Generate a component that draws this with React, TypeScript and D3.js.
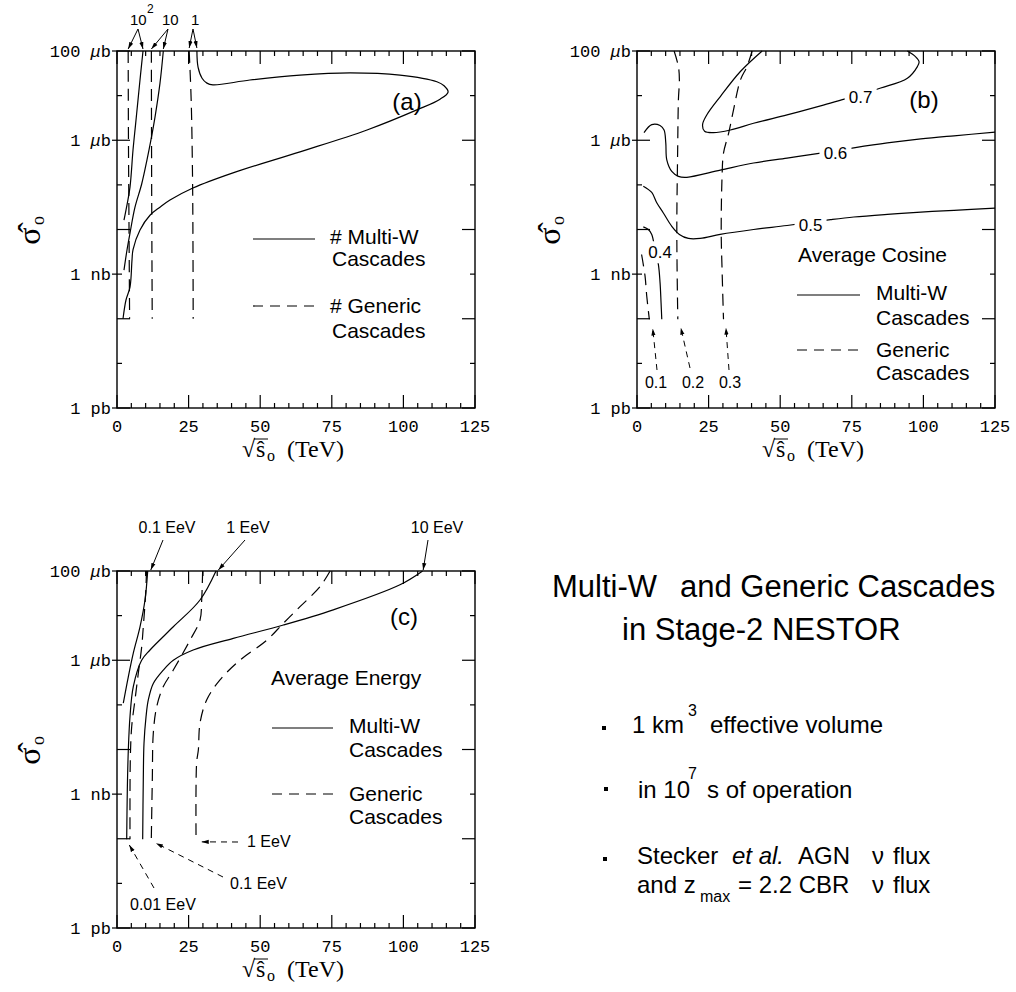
import React from 'react';
import * as d3 from 'd3';

// ---------- geometry of one panel ----------
const PW = 358;
const PH = 357;

// ---------- axes ----------
const xTickValues = [0, 25, 50, 75, 100, 125];
const xTickLabels = ['0', '25', '50', '75', '100', '125'];
const yExponents = [0, 1, 2, 3, 4, 5, 6, 7, 8]; // log10(sigma / pb)
const yTickNums = ['100', '1', '1', '1'];
const yTickUnits = ['b', 'b', 'nb', 'pb'];
const yTickMu = [true, true, false, false];
const yTickExps = [8, 6, 3, 0];

// ---------- data: [sqrt(s) in TeV, log10(sigma/pb)] ----------
// Panel (a): number of cascades
const aMulti100 = [[9.08, 8.0], [8.2, 7.46], [7.33, 6.9], [6.46, 6.34], [5.59, 5.78], [4.54, 4.95], [3.49, 4.55], [2.44, 4.21]];
const aMulti10 = [[16.17, 8.0], [15.01, 7.28], [13.27, 6.52], [11.77, 5.98], [10.47, 5.56], [8.62, 5.02], [6.28, 4.5], [4.54, 3.92], [3.49, 3.54], [2.44, 3.09]];
const aMulti1 = [[2.1, 2.0], [3.14, 2.42], [4.54, 2.71], [5.24, 3.32], [5.6, 3.55], [8.03, 3.99], [11.52, 4.32], [15.0, 4.5], [18.5, 4.66], [26.5, 4.93], [40.5, 5.27], [63.9, 5.74], [87.3, 6.23], [104.7, 6.68], [112.8, 6.92], [115.6, 7.08], [114.2, 7.22], [111.7, 7.31], [98.8, 7.46], [81.4, 7.51], [63.9, 7.46], [46.4, 7.35], [33.5, 7.24], [31.4, 7.28], [29.7, 7.39], [28.3, 7.64], [27.9, 8.0]];
const aGeneric100 = [[3.9, 8.0], [4.0, 6.0], [4.2, 4.0], [4.4, 2.0]];
const aGeneric10 = [[12.0, 8.0], [12.1, 5.0], [12.3, 2.0]];
const aGeneric1 = [[25.2, 8.0], [25.9, 6.9], [26.4, 5.0], [26.6, 2.0]];

// Panel (b): average cosine
const bMulti07 = [[43.7, 8.0], [36.1, 7.54], [29.1, 6.98], [24.4, 6.57], [22.9, 6.35], [23.6, 6.2], [26.7, 6.17], [32.6, 6.23], [40.7, 6.38], [52.4, 6.57], [64.1, 6.77], [71.7, 6.91], [78.3, 7.03], [85.1, 7.17], [94.4, 7.39], [97.9, 7.65], [98.5, 7.76], [97.3, 7.87], [94.4, 8.0]];
const bMulti06 = [[2.45, 6.17], [5.15, 6.35], [8.05, 6.33], [9.45, 6.23], [10.05, 5.94], [10.4, 5.56], [12.15, 5.3], [14.46, 5.19], [17.4, 5.17], [29.1, 5.33], [40.7, 5.49], [52.4, 5.6], [64.1, 5.71], [75.7, 5.83], [87.4, 5.94], [99.1, 6.03], [110.7, 6.1], [125, 6.18]];
const bMulti05 = [[2.2, 4.97], [5.15, 4.83], [6.9, 4.6], [9.2, 4.37], [12.15, 4.07], [14.8, 3.89], [17.96, 3.8], [22.06, 3.8], [29.06, 3.89], [40.7, 4.0], [52.4, 4.09], [67.6, 4.22], [75.7, 4.28], [87.4, 4.34], [99.1, 4.39], [110.7, 4.43], [125, 4.48]];
const bMulti04 = [[2.2, 4.06], [3.96, 4.0], [5.15, 3.89], [6.3, 3.55], [7.46, 3.22], [8.05, 2.81], [8.4, 2.36], [8.65, 1.99]];
const bGeneric01 = [[1.6, 3.44], [2.8, 2.96], [3.4, 2.51], [4.3, 1.99]];
const bGeneric02 = [[12.96, 8.0], [14.46, 7.65], [14.8, 7.35], [14.46, 6.91], [14.2, 5.79], [13.9, 3.93], [14.25, 1.99]];
const bGeneric03 = [[40.2, 8.0], [38.4, 7.65], [36.1, 7.35], [33.7, 6.68], [32.0, 6.16], [30.2, 5.71], [29.7, 5.19], [29.4, 3.93], [29.7, 3.11], [30.2, 1.99]];
const bContourLabels = ['0.7', '0.6', '0.5', '0.4'];
const bContourLabelAt = [[78.1, 6.97], [69.3, 5.72], [60.6, 4.11], [8.05, 3.49]];

// Panel (c): average energy
const cMulti01 = [[10.72, 8.0], [9.78, 7.35], [8.03, 6.75], [5.69, 6.16], [3.95, 5.63], [2.2, 5.04]];
const cMulti1 = [[34.57, 8.0], [28.98, 7.35], [19.66, 6.75], [11.52, 6.23], [8.6, 6.0], [5.69, 5.41], [4.54, 4.74], [3.95, 3.99], [3.6, 3.09], [3.39, 1.99]];
const cMulti10 = [[106.7, 8.0], [98.8, 7.69], [75.5, 7.13], [58.1, 6.79], [40.6, 6.49], [26.6, 6.23], [19.66, 6.0], [16.17, 5.78], [12.67, 5.48], [10.93, 5.11], [10.13, 4.73], [9.43, 4.14], [9.18, 3.32], [8.97, 1.99]];
const cGeneric01 = [[10.3, 8.0], [10.02, 7.51], [9.18, 6.75], [8.62, 6.3], [7.44, 5.71], [6.28, 5.11], [5.13, 4.51], [4.64, 3.76], [4.54, 1.99]];
const cGeneric1 = [[29.9, 8.0], [29.57, 7.35], [28.98, 6.9], [25.5, 6.45], [19.66, 5.78], [16.17, 5.41], [13.86, 4.96], [12.67, 4.36], [12.33, 3.32], [11.98, 1.99]];
const cGeneric10 = [[74.4, 8.0], [70.9, 7.65], [63.9, 7.2], [58.1, 6.83], [52.3, 6.45], [42.9, 6.0], [35.96, 5.56], [31.3, 5.11], [28.98, 4.59], [28.4, 3.99], [27.8, 3.7], [27.6, 1.99]];

// ---------- scales ----------
const xS = d3.scaleLinear().domain([0, 125]).range([0, PW]);
const yS = d3.scaleLog().domain([1, 1e8]).range([PH, 0]);
const X = (v: number) => xS(v);
const Y = (e: number) => yS(Math.pow(10, e));
const curve = d3
  .line<number[]>()
  .x((d) => X(d[0]))
  .y((d) => Y(d[1]))
  .curve(d3.curveCatmullRom.alpha(0.5));

const SANS = 'Liberation Sans, Arial, Helvetica, sans-serif';
const MONO = 'Liberation Mono, Courier New, monospace';
const SERIF = 'Liberation Serif, Times New Roman, serif';
const DASH = '12,7';

function Axes() {
  const minor = d3.range(0, 126, 5);
  return (
    <g>
      <g stroke="#000" strokeWidth={1.2} fill="none">
        <rect x={0} y={0} width={PW} height={PH} strokeWidth={1.4} />
        {minor.map((v) => {
          const L = v % 25 === 0 ? 13 : 5;
          const p = X(v);
          return (
            <g key={'x' + v}>
              <line x1={p} x2={p} y1={PH} y2={PH - L} />
              <line x1={p} x2={p} y1={0} y2={L} />
            </g>
          );
        })}
        {yExponents.map((e) => {
          const L = e % 2 === 0 ? 13 : 5;
          const p = Y(e);
          const out = yTickExps.indexOf(e) >= 0 ? -5 : 0;
          return (
            <g key={'y' + e}>
              <line x1={out} x2={L} y1={p} y2={p} />
              <line x1={PW} x2={PW - L} y1={p} y2={p} />
            </g>
          );
        })}
      </g>
      <g fontFamily={MONO} fontSize={17} fill="#000">
        {xTickValues.map((v, i) => (
          <text key={'xl' + v} x={X(v)} y={PH + 24} textAnchor="middle">
            {xTickLabels[i]}
          </text>
        ))}
        {yTickExps.map((e, i) => (
          <text key={'yl' + e} x={-6} y={Y(e) + 6} textAnchor="end">
            {yTickNums[i] + ' '}
            {yTickMu[i] ? <tspan fontStyle="italic">μ</tspan> : null}
            {yTickUnits[i]}
          </text>
        ))}
      </g>
      {/* x axis title */}
      <g fontFamily={SERIF} fontSize={24} fill="#000">
        <text y={406}>
          <tspan x={125}>√</tspan>
          <tspan x={139}>ŝ</tspan>
          <tspan x={150} dy={4} fontSize={16}>o</tspan>
          <tspan x={170} dy={-4}>(TeV)</tspan>
        </text>
        <line x1={137} x2={151} y1={388} y2={388} stroke="#000" strokeWidth={1} />
      </g>
      {/* y axis title */}
      <g transform={`translate(-89,181) rotate(-90)`} fontFamily={SERIF} fill="#000">
        <text x={-4} y={12} fontSize={32} textAnchor="middle">
          σ̂
        </text>
        <text x={7} y={16} fontSize={18}>
          o
        </text>
      </g>
    </g>
  );
}

function Path({ data, dashed }: { data: number[][]; dashed?: boolean }) {
  return (
    <path
      d={curve(data) || ''}
      fill="none"
      stroke="#000"
      strokeWidth={1.2}
      strokeDasharray={dashed ? DASH : undefined}
    />
  );
}

function Arrow({ x1, y1, x2, y2, dashed }: { x1: number; y1: number; x2: number; y2: number; dashed?: boolean }) {
  return (
    <line
      x1={x1}
      y1={y1}
      x2={x2}
      y2={y2}
      stroke="#000"
      strokeWidth={1}
      strokeDasharray={dashed ? '6,5' : undefined}
      markerEnd="url(#ah)"
    />
  );
}

function Legend({ x0, x1, xt, yTitle, title, y1, y1b, y2, y2b, hash }: any) {
  return (
    <g fontFamily={SANS} fontSize={21} fill="#000">
      {title ? (
        <text x={xt - 78} y={yTitle}>
          {title}
        </text>
      ) : null}
      <line x1={x0} x2={x1} y1={y1 - 5} y2={y1 - 5} stroke="#000" strokeWidth={1.2} />
      <text x={xt} y={y1}>{hash ? '# Multi-W' : 'Multi-W'}</text>
      <text x={xt + (hash ? 2 : 0)} y={y1b}>Cascades</text>
      <line x1={x0} x2={x1} y1={y2 - 7} y2={y2 - 7} stroke="#000" strokeWidth={1.2} strokeDasharray="10,7" />
      <text x={xt} y={y2}>{hash ? '# Generic' : 'Generic'}</text>
      <text x={xt + (hash ? 2 : 0)} y={y2b}>Cascades</text>
    </g>
  );
}

function PanelA() {
  return (
    <g transform="translate(117,51)">
      <Axes />
      <Path data={aMulti100} />
      <Path data={aMulti10} />
      <Path data={aMulti1} />
      <Path data={aGeneric100} dashed />
      <Path data={aGeneric10} dashed />
      <Path data={aGeneric1} dashed />
      <g fontFamily={SANS} fontSize={15} fill="#000">
        <text x={13} y={-26}>10</text>
        <text x={30} y={-38} fontSize={12}>2</text>
        <text x={45} y={-26}>10</text>
        <text x={74} y={-26}>1</text>
      </g>
      <Arrow x1={21} y1={-22} x2={X(aGeneric100[0][0])} y2={Y(8) - 2} />
      <Arrow x1={21} y1={-22} x2={X(aMulti100[0][0])} y2={Y(8) - 2} />
      <Arrow x1={51} y1={-22} x2={X(aGeneric10[0][0])} y2={Y(8) - 2} />
      <Arrow x1={51} y1={-22} x2={X(aMulti10[0][0])} y2={Y(8) - 2} />
      <Arrow x1={76} y1={-22} x2={X(aGeneric1[0][0])} y2={Y(8) - 3} />
      <Arrow x1={76} y1={-22} x2={X(aMulti1[aMulti1.length - 1][0])} y2={Y(8) - 3} />
      <text x={290} y={59} fontFamily={SANS} fontSize={24} textAnchor="middle">(a)</text>
      <Legend x0={136} x1={198} xt={213} y1={193} y1b={215} y2={262} y2b={287} hash />
    </g>
  );
}

function PanelB() {
  const lines = [bMulti07, bMulti06, bMulti05, bMulti04];
  return (
    <g transform="translate(637,51)">
      <Axes />
      {lines.map((d, i) => (
        <Path key={'bm' + i} data={d} />
      ))}
      <Path data={bGeneric01} dashed />
      <Path data={bGeneric02} dashed />
      <Path data={bGeneric03} dashed />
      <g fontFamily={SANS} fontSize={17} fill="#000">
        {bContourLabels.map((t, i) => {
          const cx = X(bContourLabelAt[i][0]);
          const cy = Y(bContourLabelAt[i][1]);
          return (
            <g key={'bl' + t}>
              <rect x={cx - 16} y={cy - 11} width={32} height={22} fill="#fff" />
              <text x={cx} y={cy + 6} textAnchor="middle">{t}</text>
            </g>
          );
        })}
      </g>
      <g fontFamily={SANS} fontSize={16} fill="#000">
        <text x={19} y={337} textAnchor="middle">0.1</text>
        <text x={56} y={337} textAnchor="middle">0.2</text>
        <text x={93} y={337} textAnchor="middle">0.3</text>
      </g>
      <Arrow x1={20} y1={319} x2={X(5.5)} y2={Y(1.78)} dashed />
      <Arrow x1={53} y1={317} x2={X(15.3)} y2={Y(1.8)} dashed />
      <Arrow x1={92} y1={319} x2={X(31.06)} y2={Y(1.8)} dashed />
      <text x={287} y={57} fontFamily={SANS} fontSize={24} textAnchor="middle">(b)</text>
      <Legend x0={160} x1={223} xt={239} title="Average Cosine" yTitle={211} y1={249} y1b={274} y2={306} y2b={329} />
    </g>
  );
}

function PanelC() {
  return (
    <g transform="translate(117,571)">
      <Axes />
      <Path data={cMulti01} />
      <Path data={cMulti1} />
      <Path data={cMulti10} />
      <Path data={cGeneric01} dashed />
      <Path data={cGeneric1} dashed />
      <Path data={cGeneric10} dashed />
      <g fontFamily={SANS} fontSize={16} fill="#000">
        <text x={50} y={-38} textAnchor="middle">0.1 EeV</text>
        <text x={131} y={-38} textAnchor="middle">1 EeV</text>
        <text x={320} y={-38} textAnchor="middle">10 EeV</text>
        <text x={130} y={276}>1 EeV</text>
        <text x={113} y={318}>0.1 EeV</text>
        <text x={13} y={339}>0.01 EeV</text>
      </g>
      <Arrow x1={46} y1={-31} x2={X(11.8)} y2={Y(8) - 1} />
      <Arrow x1={128} y1={-31} x2={X(35.4)} y2={Y(8) - 1} />
      <Arrow x1={311} y1={-31} x2={X(106.9)} y2={Y(8) - 1} />
      <Arrow x1={121} y1={271} x2={X(29.6)} y2={Y(1.93)} dashed />
      <Arrow x1={106} y1={306} x2={X(13.6)} y2={Y(1.9)} dashed />
      <Arrow x1={37} y1={317} x2={X(4.3)} y2={Y(1.86)} dashed />
      <text x={287} y={54} fontFamily={SANS} fontSize={24} textAnchor="middle">(c)</text>
      <Legend x0={155} x1={216} xt={232} title="Average Energy" yTitle={114} y1={162} y1b={186} y2={230} y2b={253} />
    </g>
  );
}

function Notes() {
  return (
    <g fontFamily={SANS} fill="#000">
      <text y={597} fontSize={31}>
        <tspan x={552}>Multi-W</tspan>
        <tspan x={680}>and Generic Cascades</tspan>
      </text>
      <text x={622} y={640} fontSize={31}>in Stage-2 NESTOR</text>

      <rect x={602} y={726} width={4} height={4} />
      <text y={733} fontSize={24}>
        <tspan x={632}>1 km</tspan>
        <tspan x={688} y={716} fontSize={16}>3</tspan>
        <tspan x={710} y={733}>effective volume</tspan>
      </text>

      <rect x={604} y={787} width={4} height={4} />
      <text y={798} fontSize={24}>
        <tspan x={638}>in 10</tspan>
        <tspan x={688} y={779} fontSize={16}>7</tspan>
        <tspan x={707} y={798}>s of operation</tspan>
      </text>

      <rect x={603} y={857} width={4} height={4} />
      <text y={864} fontSize={24}>
        <tspan x={637}>Stecker</tspan>
        <tspan x={732} fontStyle="italic">et al.</tspan>
        <tspan x={798}>AGN</tspan>
        <tspan x={872}>ν</tspan>
        <tspan x={893}>flux</tspan>
      </text>
      <text y={893} fontSize={24}>
        <tspan x={637}>and z</tspan>
        <tspan x={700} y={902} fontSize={16}>max</tspan>
        <tspan x={738} y={893}>= 2.2 CBR</tspan>
        <tspan x={872}>ν</tspan>
        <tspan x={893}>flux</tspan>
      </text>
    </g>
  );
}

export default function App() {
  return (
    <svg
      width={1016}
      height={992}
      viewBox="0 0 1016 992"
      style={{ position: 'absolute', left: 0, top: 0, background: '#fff' }}
    >
      <defs>
        <marker id="ah" viewBox="0 0 10 10" refX={10} refY={5} markerWidth={7} markerHeight={7} orient="auto" markerUnits="userSpaceOnUse">
          <path d="M0,2 L10,5 L0,8 z" fill="#000" />
        </marker>
      </defs>
      <rect width={1016} height={992} fill="#fff" />
      <PanelA />
      <PanelB />
      <PanelC />
      <Notes />
    </svg>
  );
}
